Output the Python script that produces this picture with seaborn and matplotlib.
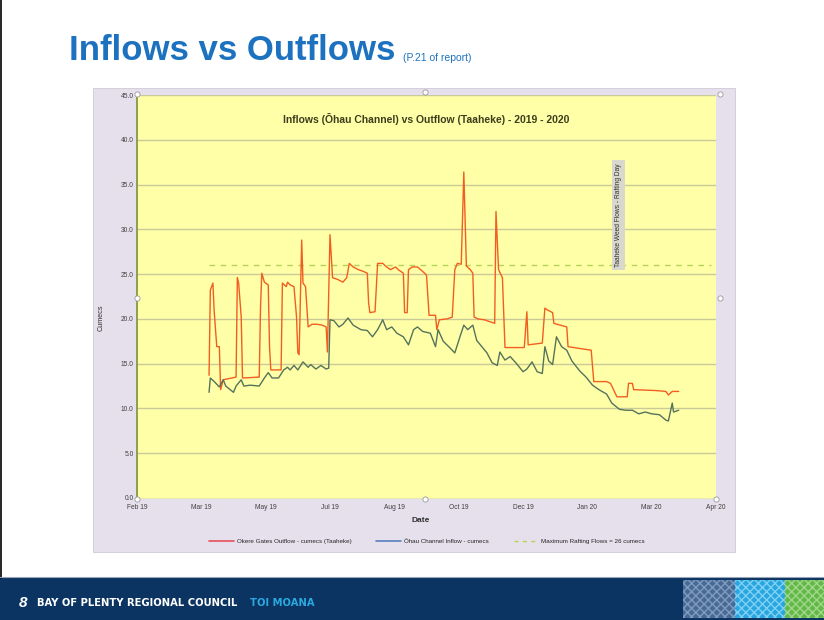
import numpy as np
import pandas as pd
import matplotlib
matplotlib.use("Agg")
import matplotlib.pyplot as plt
import matplotlib.dates as mdates
from matplotlib.lines import Line2D
from matplotlib.patches import Rectangle
import seaborn as sns

# Outflow at Taaheke (Okere Gates) - cumecs
outflow_dates = [
    "2019-04-01", "2019-04-02", "2019-04-04", "2019-04-05", "2019-04-07", "2019-04-09", "2019-04-10",
    "2019-04-12", "2019-04-22", "2019-04-23", "2019-04-24", "2019-04-26", "2019-04-27", "2019-05-10",
    "2019-05-11", "2019-05-12", "2019-05-14", "2019-05-17", "2019-05-18", "2019-05-19", "2019-05-27",
    "2019-05-28", "2019-05-31", "2019-06-01", "2019-06-03", "2019-06-06", "2019-06-08", "2019-06-09",
    "2019-06-10", "2019-06-12", "2019-06-13", "2019-06-15", "2019-06-17", "2019-06-20", "2019-06-24",
    "2019-06-28", "2019-07-01", "2019-07-02", "2019-07-04", "2019-07-06", "2019-07-10", "2019-07-14",
    "2019-07-17", "2019-07-19", "2019-07-22", "2019-07-26", "2019-07-30", "2019-08-02", "2019-08-03",
    "2019-08-04", "2019-08-08", "2019-08-10", "2019-08-14", "2019-08-17", "2019-08-20", "2019-08-24",
    "2019-08-26", "2019-08-30", "2019-08-31", "2019-09-02", "2019-09-03", "2019-09-06", "2019-09-10",
    "2019-09-14", "2019-09-17", "2019-09-19", "2019-09-24", "2019-09-25", "2019-09-27", "2019-10-03",
    "2019-10-07", "2019-10-09", "2019-10-11", "2019-10-14", "2019-10-16", "2019-10-18", "2019-10-21",
    "2019-10-23", "2019-10-24", "2019-10-27", "2019-11-01", "2019-11-05", "2019-11-09", "2019-11-10",
    "2019-11-12", "2019-11-15", "2019-11-17", "2019-12-02", "2019-12-04", "2019-12-05", "2019-12-16",
    "2019-12-18", "2019-12-20", "2019-12-24", "2019-12-25", "2020-01-04", "2020-01-05", "2020-01-14",
    "2020-01-23", "2020-01-25", "2020-02-04", "2020-02-07", "2020-02-12", "2020-02-20", "2020-02-21",
    "2020-02-24", "2020-02-25", "2020-03-13", "2020-03-21", "2020-03-23", "2020-03-26", "2020-03-31",
]
outflow_cumecs = [
    13.7, 23.2, 24.0, 20.8, 16.9, 16.9, 12.1,
    13.2, 13.5, 24.6, 24.0, 20.2, 13.4, 13.5,
    21.3, 25.1, 24.1, 23.8, 16.9, 14.3, 14.3,
    24.0, 23.6, 24.1, 23.8, 23.6, 20.2, 16.2,
    16.0, 28.8, 24.0, 23.6, 19.1, 19.4, 19.4,
    19.3, 19.1, 16.3, 29.4, 24.6, 24.4, 24.1,
    24.6, 26.2, 25.8, 25.5, 25.3, 25.1, 21.8,
    20.7, 20.8, 26.2, 26.2, 25.8, 25.5, 25.8,
    25.5, 25.1, 20.7, 20.7, 25.5, 25.8, 25.8,
    25.3, 24.9, 20.4, 20.4, 18.8, 19.9, 20.0,
    20.2, 25.5, 26.2, 26.1, 36.4, 25.9, 25.5,
    25.1, 20.2, 20.0, 19.9, 19.7, 19.5, 32.0,
    25.5, 24.6, 16.8, 16.8, 20.8, 17.1, 17.3,
    21.2, 21.0, 20.7, 19.5, 19.1, 16.9, 16.7,
    16.5, 13.0, 13.0, 12.8, 11.3, 11.3, 12.8,
    12.8, 12.1, 12.0, 11.9, 11.5, 11.9, 11.9,
]

# Ohau Channel inflow - cumecs
inflow_dates = [
    "2019-04-01", "2019-04-02", "2019-04-05", "2019-04-09", "2019-04-12", "2019-04-14", "2019-04-20",
    "2019-04-22", "2019-04-26", "2019-04-28", "2019-05-03", "2019-05-10", "2019-05-14", "2019-05-17",
    "2019-05-20", "2019-05-25", "2019-05-29", "2019-06-01", "2019-06-03", "2019-06-06", "2019-06-09",
    "2019-06-13", "2019-06-17", "2019-06-19", "2019-06-23", "2019-06-27", "2019-07-01", "2019-07-03",
    "2019-07-04", "2019-07-07", "2019-07-11", "2019-07-14", "2019-07-18", "2019-07-22", "2019-07-28",
    "2019-08-02", "2019-08-06", "2019-08-10", "2019-08-14", "2019-08-17", "2019-08-21", "2019-08-25",
    "2019-08-30", "2019-09-03", "2019-09-07", "2019-09-10", "2019-09-14", "2019-09-20", "2019-09-24",
    "2019-09-26", "2019-09-30", "2019-10-05", "2019-10-09", "2019-10-13", "2019-10-16", "2019-10-19",
    "2019-10-23", "2019-10-26", "2019-10-30", "2019-11-03", "2019-11-07", "2019-11-11", "2019-11-13",
    "2019-11-17", "2019-11-21", "2019-11-26", "2019-12-01", "2019-12-04", "2019-12-08", "2019-12-12",
    "2019-12-16", "2019-12-18", "2019-12-21", "2019-12-24", "2019-12-27", "2019-12-31", "2020-01-04",
    "2020-01-08", "2020-01-14", "2020-01-19", "2020-01-24", "2020-01-29", "2020-02-04", "2020-02-08",
    "2020-02-14", "2020-02-19", "2020-02-24", "2020-02-29", "2020-03-05", "2020-03-10", "2020-03-16",
    "2020-03-21", "2020-03-23", "2020-03-26", "2020-03-27", "2020-03-31",
]
inflow_cumecs = [
    11.8, 13.4, 13.0, 12.4, 13.2, 12.5, 11.8,
    12.5, 13.2, 12.5, 12.6, 12.5, 13.4, 14.0,
    13.4, 13.4, 14.3, 14.6, 14.3, 14.8, 14.3,
    15.2, 14.6, 14.9, 14.4, 14.8, 14.4, 14.5,
    19.9, 19.8, 19.1, 19.4, 20.1, 19.3, 18.8,
    18.7, 18.0, 18.8, 19.9, 18.8, 19.1, 18.4,
    18.0, 17.1, 18.8, 19.1, 18.6, 18.4, 16.9,
    18.8, 17.5, 16.8, 16.2, 18.0, 19.3, 18.8,
    19.3, 17.6, 16.9, 16.2, 15.1, 14.8, 16.3,
    15.4, 15.8, 15.0, 14.1, 14.4, 15.2, 14.1,
    13.9, 16.9, 15.3, 14.9, 18.0, 16.9, 16.5,
    15.3, 14.2, 13.5, 12.6, 12.1, 11.6, 10.6,
    9.9, 9.8, 9.8, 9.4, 9.6, 9.4, 9.3,
    8.7, 8.6, 10.6, 9.6, 9.8,
]

# Maximum rafting flows line
rafting_dates = ["2019-04-01", "2020-04-25"]
rafting_cumecs = [26.0, 26.0]

y_ticks = [0, 5, 10, 15, 20, 25, 30, 35, 40, 45]

W, H = 824, 620
sns.set_theme(style="white")
plt.rcParams['font.family'] = ['Liberation Sans', 'DejaVu Sans']

fig = plt.figure(figsize=(W / 100, H / 100), dpi=100)
fig.patch.set_facecolor("white")


def fx(px):
    return px / W


def fy(py):
    return 1 - py / H


# background layer (slide decoration)
bg = fig.add_axes([0, 0, 1, 1], zorder=0)
bg.set_xlim(0, W)
bg.set_ylim(H, 0)
bg.axis("off")
bg.add_patch(Rectangle((93, 88), 642, 464, facecolor="#e5e0ec", edgecolor="#cfcbd6", lw=0.6))
bg.plot([1.5, 1.5], [0, 578], color="black", lw=1.2)
bg.add_patch(Rectangle((0, 578), W, 42, facecolor="#0b3462", edgecolor="none"))
bg.plot([0, W], [576.5, 576.5], color="#9aa6b8", lw=0.8)
bg.add_patch(Rectangle((683, 580), 52, 38, facecolor="#4a6a96", edgecolor="#7f9cc0", hatch="xxxx", lw=0))
bg.add_patch(Rectangle((735, 580), 50, 38, facecolor="#28a6df", edgecolor="#7fd0f2", hatch="xxxx", lw=0))
bg.add_patch(Rectangle((785, 580), 39, 38, facecolor="#63b848", edgecolor="#9fd88a", hatch="xxxx", lw=0))

fig.text(fx(69), fy(51), "Inflows vs Outflows", fontsize=25, fontweight="bold",
         color="#1d72c0", va="center", ha="left")
fig.text(fx(403), fy(58), "(P.21 of report)", fontsize=7.5, color="#1d72c0", va="center", ha="left")
fig.text(fx(19), fy(603), "8", fontsize=11, fontweight="bold", fontstyle="italic",
         color="white", va="center")
fig.text(fx(37), fy(603), "BAY OF PLENTY REGIONAL COUNCIL", fontsize=7.2, fontweight="bold",
         color="white", va="center", family=["DejaVu Sans"])
fig.text(fx(250), fy(603), "TOI MOANA", fontsize=7.2, fontweight="bold",
         color="#2aa8e0", va="center", family=["DejaVu Sans"])

# chart
ax = fig.add_axes([fx(137), fy(498), fx(716 - 137), (498 - 95) / H], zorder=1)
ax.set_facecolor("#ffffa8")

out_df = pd.DataFrame({"date": pd.to_datetime(outflow_dates), "cumecs": outflow_cumecs})
in_df = pd.DataFrame({"date": pd.to_datetime(inflow_dates), "cumecs": inflow_cumecs})
raft_df = pd.DataFrame({"date": pd.to_datetime(rafting_dates), "cumecs": rafting_cumecs})

for v in y_ticks[1:]:
    ax.axhline(v, color="#c9c99a", lw=1.0, zorder=0)

sns.lineplot(data=raft_df, x="date", y="cumecs", ax=ax, color="#b5d35a", lw=1.0,
             linestyle=(0, (4, 4)))
sns.lineplot(data=out_df, x="date", y="cumecs", ax=ax, color="#f25e22", lw=1.0)
sns.lineplot(data=in_df, x="date", y="cumecs", ax=ax, color="#55735a", lw=1.0)

ax.set_xlim(pd.Timestamp("2019-02-04"), pd.Timestamp("2020-04-29"))
ax.set_ylim(0, 45)
ax.set_xticks(pd.date_range("2019-02-04", periods=10, freq="50D"))
ax.xaxis.set_major_formatter(mdates.DateFormatter("%b %y"))
ax.set_yticks(y_ticks)
ax.set_yticklabels([f"{v:.1f}" for v in y_ticks])
ax.tick_params(axis="both", labelsize=4.8, colors="#404040", length=2, width=0.5, pad=2.5)
ax.tick_params(axis="y", length=0)
ax.set_xlabel("")
ax.set_ylabel("")
for s in ["top", "right"]:
    ax.spines[s].set_visible(False)
ax.spines["left"].set_color("#7f8f3a")
ax.spines["left"].set_linewidth(1.2)
ax.spines["bottom"].set_color("#e8e8a0")
ax.spines["bottom"].set_linewidth(0.6)

ax.text(0.5, 0.94, "Inflows (Ōhau Channel) vs Outflow (Taaheke) - 2019 - 2020",
        transform=ax.transAxes, ha="center", va="center", fontsize=7.5, fontweight="bold",
        color="#3d3d1c")
ax.text(pd.Timestamp("2020-02-13"), 31.6, "Taaheke Weed Flows - Rafting Day", rotation=90,
        ha="center", va="center", fontsize=4.8, color="#303030",
        bbox=dict(boxstyle="square,pad=0.45", facecolor="#d8d8cc", edgecolor="none"))

fig.text(fx(101), fy(318), "Cumecs", rotation=90, fontsize=5.2, color="#303030",
         ha="center", va="center")
fig.text(fx(421), fy(521), "Date", fontsize=6, fontweight="bold", color="#303030",
         ha="center", va="center")

handles = [
    Line2D([], [], color="#e8505a", lw=1.2),
    Line2D([], [], color="#5a7fc0", lw=1.2),
    Line2D([], [], color="#b5d35a", lw=1.0, linestyle=(0, (3, 3))),
]
labels = [
    "Okere Gates Outflow - cumecs (Taaheke)",
    "Ōhau Channel Inflow - cumecs",
    "Maximum Rafting Flows = 26 cumecs",
]
fig.legend(handles, labels, loc="center", bbox_to_anchor=(fx(427), fy(541)), ncol=3,
           frameon=False, fontsize=4.5, handlelength=4, columnspacing=4, handletextpad=0.4)

# selection handles of the picture
fg = fig.add_axes([0, 0, 1, 1], zorder=2)
fg.set_xlim(0, W)
fg.set_ylim(H, 0)
fg.axis("off")
hx = [137, 425, 720, 137, 720, 137, 425, 716]
hy = [94, 92, 94, 298, 298, 499, 499, 499]
fg.scatter(hx, hy, s=14, facecolor="white", edgecolor="#9a9a9a", linewidth=0.6)

fig.savefig("out.png", dpi=100)
